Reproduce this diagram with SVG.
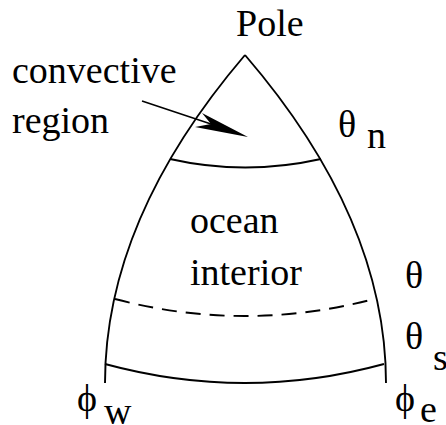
<svg xmlns="http://www.w3.org/2000/svg" width="446" height="425" viewBox="0 0 446 425">
<style>
.ln{fill:none;stroke:#000;stroke-width:1.9;stroke-linecap:butt}
.dash{stroke-dasharray:15 9}
</style>
<rect width="446" height="425" fill="#fff"/>
<g id="sector">
<path class="ln" d="M245,55 Q105,219 105,383"/>
<path class="ln" d="M245,55 Q386,219 386,383"/>
<path class="ln" d="M170,159 Q245,176 321,159"/>
<path class="ln dash" d="M115,299 Q245,333 374,299"/>
<path class="ln" d="M105,364 Q245,402 384,364"/>
</g>
<g id="labels" font-family="Liberation Serif, Times New Roman, serif" font-size="38" fill="#000">
<text x="236" y="36">Pole</text>
<text x="12" y="83">convective</text>
<text x="12" y="133">region</text>
<text x="190" y="233">ocean</text>
<text x="190" y="285">interior</text>
<text x="338" y="137">θ</text>
<text x="367" y="148">n</text>
<text x="405" y="288">θ</text>
<text x="405" y="349">θ</text>
<text x="433" y="370">s</text>
<text x="77" y="411">ϕ</text>
<text x="104" y="424">w</text>
<text x="395" y="411">ϕ</text>
<text x="420" y="422">e</text>
</g>
<g id="connectors">
<line x1="142" y1="101" x2="211" y2="124" stroke="#000" stroke-width="1.6"/>
<polygon points="248,137 202,113 211,124 195,127" fill="#000"/>
</g>
</svg>
